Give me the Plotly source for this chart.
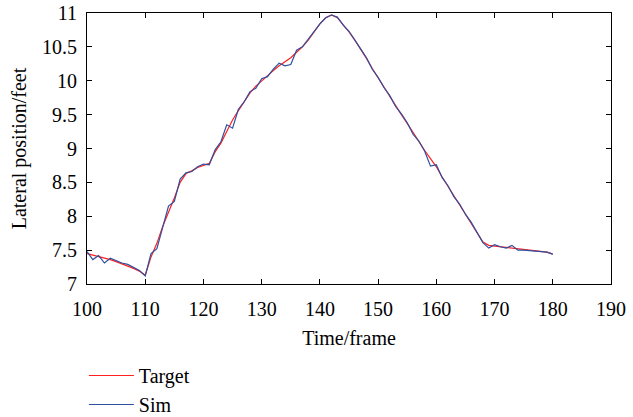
import plotly.graph_objects as go

frames = list(range(100, 181))

target = [7.45, 7.43, 7.40, 7.38, 7.36, 7.33, 7.30, 7.27, 7.23, 7.19,
          7.13, 7.40, 7.60, 7.85, 8.05, 8.27, 8.50, 8.63, 8.67, 8.72,
          8.75, 8.78, 8.95, 9.08, 9.25, 9.42, 9.56, 9.70, 9.82, 9.92,
          10.00, 10.08, 10.15, 10.22, 10.28, 10.34, 10.42, 10.50, 10.60, 10.72,
          10.84, 10.93, 10.97, 10.93, 10.83, 10.72, 10.60, 10.47, 10.33, 10.18,
          10.04, 9.90, 9.77, 9.63, 9.50, 9.37, 9.23, 9.10, 8.97, 8.85,
          8.73, 8.58, 8.44, 8.30, 8.17, 8.04, 7.90, 7.76, 7.62, 7.57,
          7.56, 7.54, 7.53, 7.52, 7.51, 7.50, 7.49, 7.48, 7.48, 7.47,
          7.44]

sim = [7.48, 7.36, 7.42, 7.31, 7.38, 7.34, 7.31, 7.29, 7.24, 7.20,
       7.12, 7.45, 7.52, 7.82, 8.15, 8.22, 8.55, 8.64, 8.66, 8.73,
       8.77, 8.76, 8.98, 9.10, 9.35, 9.30, 9.58, 9.69, 9.84, 9.89,
       10.03, 10.06, 10.17, 10.26, 10.22, 10.24, 10.45, 10.50, 10.61, 10.72,
       10.84, 10.93, 10.97, 10.94, 10.82, 10.73, 10.59, 10.47, 10.34, 10.17,
       10.05, 9.90, 9.78, 9.62, 9.51, 9.38, 9.21, 9.11, 8.96, 8.74,
       8.76, 8.57, 8.45, 8.29, 8.18, 8.03, 7.91, 7.75, 7.61, 7.53,
       7.58, 7.55, 7.53, 7.57, 7.50, 7.50, 7.49, 7.48, 7.48, 7.47,
       7.44]

x_ticks = [100, 110, 120, 130, 140, 150, 160, 170, 180, 190]
y_ticks = [7, 7.5, 8, 8.5, 9, 9.5, 10, 10.5, 11]
y_tick_text = ["7", "7.5", "8", "8.5", "9", "9.5", "10", "10.5", "11"]

font_family = "Liberation Serif"

fig = go.Figure()
fig.add_trace(go.Scatter(x=frames, y=target, mode="lines", name="Target",
                         line=dict(color="#ff2020", width=1.2)))
fig.add_trace(go.Scatter(x=frames, y=sim, mode="lines", name="Sim",
                         line=dict(color="#2f4f9f", width=1.2)))

axis_common = dict(showline=True, linecolor="black", linewidth=1, mirror="ticks",
                   ticks="inside", ticklen=5, tickcolor="black", showgrid=False,
                   zeroline=False, automargin=False,
                   tickfont=dict(size=20, color="black", family=font_family))

fig.update_xaxes(range=[100, 190], tickvals=x_ticks, ticklabelstandoff=7,
                 title=dict(text="Time/frame", font=dict(size=20, color="black", family=font_family), standoff=11),
                 **axis_common)
fig.update_yaxes(range=[7, 11], tickvals=y_ticks, ticktext=y_tick_text, ticklabelstandoff=5,
                 title=dict(text="Lateral position/feet", font=dict(size=20, color="black", family=font_family), standoff=10),
                 **axis_common)

fig.update_layout(
    width=633, height=417,
    margin=dict(l=87, r=22, t=13, b=133),
    plot_bgcolor="white", paper_bgcolor="white",
    font=dict(family=font_family, size=20, color="black"),
    showlegend=True,
    legend=dict(x=-0.006, y=1 - 356 / 417, xref="paper", yref="container",
                xanchor="left", yanchor="top", itemwidth=45,
                bgcolor="rgba(0,0,0,0)", font=dict(size=20, family=font_family),
                tracegroupgap=0),
)

fig.write_html("out.html")
